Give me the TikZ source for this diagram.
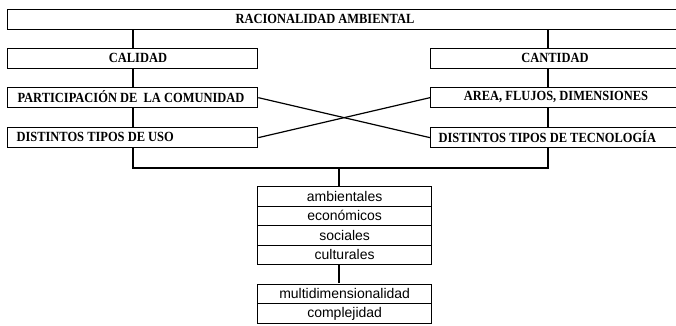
\documentclass[tikz,border=0pt]{standalone}
\usepackage{fontspec}
\setmainfont{Liberation Serif}
\newfontfamily\tfont[FakeStretch=0.89]{Liberation Serif}
\newfontfamily\arialfont{Liberation Sans}
\begin{document}
\begin{tikzpicture}[x=1pt,y=-1pt,
  box/.style={draw=black,line width=1.3pt,fill=white,inner sep=0pt,anchor=north west},
  tbox/.style={font=\tfont\fontsize{14}{16}\selectfont\bfseries},
  sbox/.style={draw=black,line width=1.3pt,fill=white,inner sep=0pt,anchor=north west,minimum width=174pt,minimum height=19.5pt,font=\arialfont\fontsize{14}{16}\selectfont},
  conn/.style={line width=1.2pt,draw=black}]
\useasboundingbox (0,0) rectangle (676,325);
\clip (0,0) rectangle (676,325);
% connectors (behind boxes)
\coordinate (lj) at (133,168);
\coordinate (rj) at (548,168);
\coordinate (mj) at (339,168);
\draw[conn] (133,28) -- (lj) -- (rj) -- (548,28);
\draw[conn] (mj) -- (339,186);
\draw[conn] (339,264) -- (339,283);
% top box
\node[box,minimum width=676pt,minimum height=20pt] (top) at (7,8.5) {};
\node[tbox] (toptxt) at (325,18.5) {RACIONALIDAD AMBIENTAL};
% left column
\node[box,minimum width=250pt,minimum height=20pt] (cal) at (7,48) {};
\node[tbox] at (138,58) {CALIDAD};
\node[box,minimum width=250pt,minimum height=20pt] (par) at (7,87) {};
\node[tbox,anchor=west] at (14,97) {PARTICIPACIÓN DE\ \ LA COMUNIDAD};
\node[box,minimum width=250pt,minimum height=20pt] (uso) at (7,127) {};
\node[tbox,anchor=west] at (13,137) {DISTINTOS TIPOS DE USO};
% right column
\node[box,minimum width=260pt,minimum height=20pt] (can) at (430,48) {};
\node[tbox] at (555,58) {CANTIDAD};
\node[box,minimum width=260pt,minimum height=20pt] (are) at (430,87) {};
\node[tbox] at (556,97) {AREA, FLUJOS, DIMENSIONES};
\node[box,minimum width=260pt,minimum height=20pt] (tec) at (430,127) {};
\node[tbox,anchor=west] at (435,137) {DISTINTOS TIPOS DE TECNOLOGÍA};
% crossing lines
\draw[conn] (par.east) -- (tec.west);
\draw[conn] (uso.east) -- (are.west);
% bottom boxes
\node[sbox] (amb) at (257,186) {ambientales};
\node[sbox] (eco) at (257,205.5) {económicos};
\node[sbox] (soc) at (257,225) {sociales};
\node[sbox] (cul) at (257,244.5) {culturales};
\node[sbox] (mul) at (257,283.5) {multidimensionalidad};
\node[sbox] (com) at (257,303) {complejidad};
\end{tikzpicture}
\end{document}
